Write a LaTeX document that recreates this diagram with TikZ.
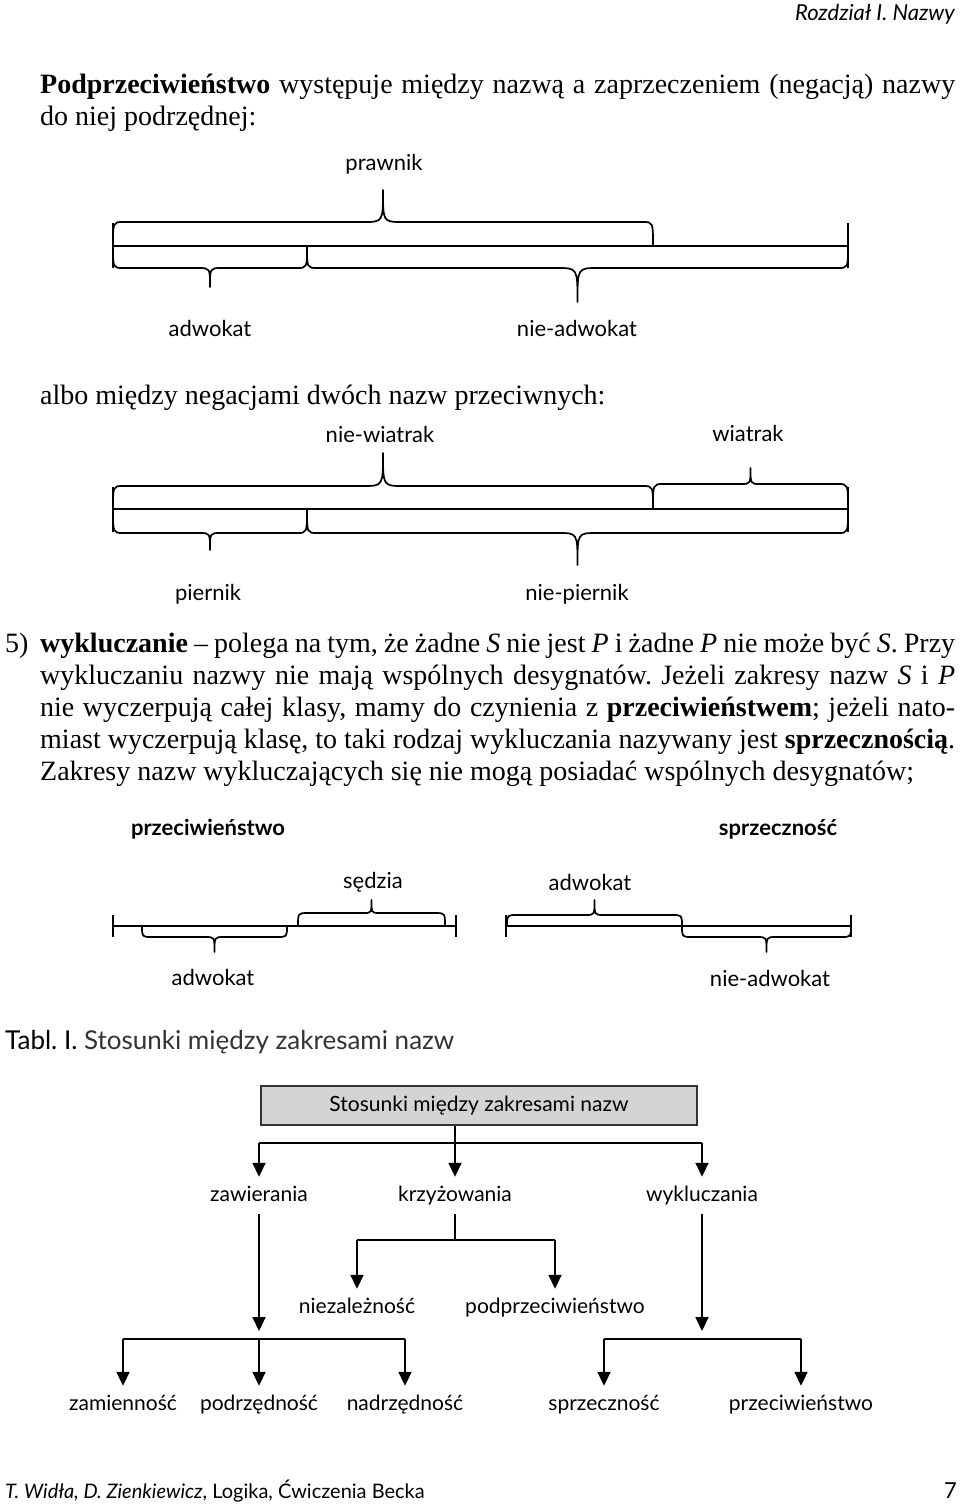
\documentclass[tikz,border=0pt]{standalone}
\usepackage{fontspec}
\setmainfont{Liberation Serif}
\newfontfamily\gill{Lato}
\usetikzlibrary{arrows.meta}
\frenchspacing

\tikzset{
  brc/.style={line width=1.7pt, line cap=round, line join=round},
  tick/.style={line width=1.7pt},
  body/.style={font=\fontsize{28}{32}\selectfont, inner sep=0pt, anchor=base west},
  lbl/.style={font=\gill\fontsize{22}{26}\selectfont, inner sep=0pt, anchor=base},
  blbl/.style={lbl, font=\gill\bfseries\fontsize{22}{26}\selectfont},
  tnode/.style={font=\gill\fontsize{21}{26}\selectfont, inner xsep=0pt, inner ysep=8pt,
    text height=16pt, text depth=5pt, anchor=base},
  ln/.style={line width=1.8pt},
  arr/.style={line width=1.8pt, -{Triangle[width=13pt,length=14pt]}},
}

% brace: x left, x right, y of line, direction (1 down, -1 up), flat offset, tip length
\newcommand{\cbrace}[6]{%
  \draw[brc] (#1,#3) .. controls (#1,{#3+#4*#5}) .. ({#1+10},{#3+#4*#5})
    -- ({(#1+#2)/2-0.6*#6},{#3+#4*#5}) .. controls ({(#1+#2)/2},{#3+#4*#5}) .. ({(#1+#2)/2},{#3+#4*(#5+#6)})
    .. controls ({(#1+#2)/2},{#3+#4*#5}) .. ({(#1+#2)/2+0.6*#6},{#3+#4*#5})
    -- ({#2-10},{#3+#4*#5}) .. controls (#2,{#3+#4*#5}) .. (#2,#3);}

\begin{document}
\begin{tikzpicture}[x=1pt, y=-1pt]
  \useasboundingbox (0,0) rectangle (960,1507);

  % page head
  \node[font=\gill\itshape\fontsize{22}{26}\selectfont, inner sep=0pt, anchor=base east] (hdr) at (955,20) {Rozdział I. Nazwy};

  \node[body] (pdef) at (40,93) {\makebox[915pt][s]{\textbf{Podprzeciwieństwo} występuje między nazwą a zaprzeczeniem (negacją) nazwy}};
  \node[body] (pdef2) at (40,125) {do niej podrzędnej:};

  % prawnik / adwokat
  \draw[tick] (113,246) -- (848,246) (113,223) -- (113,268) (848,223) -- (848,268);
  \cbrace{113}{653}{246}{-1}{24}{32}
  \cbrace{113}{307}{246}{1}{22}{19}
  \cbrace{307}{848}{246}{1}{22}{34}
  \node[lbl] (prawnik) at (384,170) {prawnik};
  \node[lbl] (adw1) at (210,336) {adwokat};
  \node[lbl] (nadw1) at (577,336) {nie-adwokat};

  \node[body] (albo) at (40,404) {albo między negacjami dwóch nazw przeciwnych:};

  % wiatrak / piernik
  \draw[tick] (113,509) -- (848,509) (113,487) -- (113,532) (848,487) -- (848,532);
  \cbrace{113}{653}{509}{-1}{23}{33}
  \cbrace{653}{848}{509}{-1}{25}{16}
  \cbrace{113}{307}{509}{1}{24}{17}
  \cbrace{307}{848}{509}{1}{24}{32}
  \node[lbl] (nwiat) at (380,442) {nie-wiatrak};
  \node[lbl] (wiat) at (748,441) {wiatrak};
  \node[lbl] (pier) at (208,600) {piernik};
  \node[lbl] (npier) at (577,600) {nie-piernik};

  \node[body] (p5) at (5,652) {5)};
  \node[body] (w1) at (40,652) {\makebox[915pt][s]{\textbf{wykluczanie} – polega na tym, że żadne \textit{S} nie jest \textit{P} i żadne \textit{P} nie może być \textit{S}. Przy}};
  \node[body] (w2) at (40,684) {\makebox[915pt][s]{wykluczaniu nazwy nie mają wspólnych desygnatów. Jeżeli zakresy nazw \textit{S} i \textit{P}}};
  \node[body] (w3) at (40,716) {\makebox[915pt][s]{nie wyczerpują całej klasy, mamy do czynienia z \textbf{przeciwieństwem}; jeżeli nato-}};
  \node[body] (w4) at (40,748) {\makebox[915pt][s]{miast wyczerpują klasę, to taki rodzaj wykluczania nazywany jest \textbf{sprzecznością}.}};
  \node[body] (w5) at (40,780) {Zakresy nazw wykluczających się nie mogą posiadać wspólnych desygnatów;};

  % przeciwienstwo / sprzecznosc
  \node[blbl] (przec) at (208,835) {przeciwieństwo};
  \node[blbl] (sprz) at (778,835) {sprzeczność};
  \draw[tick] (113,926) -- (456,926) (113,915) -- (113,937) (456,915) -- (456,937);
  \cbrace{298}{445}{926}{-1}{13}{13}
  \cbrace{142}{287}{926}{1}{11}{15}
  \node[lbl] (sedz) at (373,888) {sędzia};
  \node[lbl] (adw2) at (213,985) {adwokat};
  \draw[tick] (506,926) -- (851,926) (506,915) -- (506,937) (851,915) -- (851,937);
  \cbrace{507}{682}{926}{-1}{11}{15}
  \cbrace{682}{851}{926}{1}{11}{15}
  \node[lbl] (adw3) at (590,890) {adwokat};
  \node[lbl] (nadw3) at (770,986) {nie-adwokat};

  \node[font=\gill\fontsize{26}{30}\selectfont, inner sep=0pt, anchor=base west] (tabl) at (5,1049) {Tabl. I. {\color{black!80}Stosunki między zakresami nazw}};

  % tree
  \node[draw=black!80, line width=1.8pt, fill=black!17, minimum width=436pt, minimum height=39pt,
    inner sep=0pt, font=\gill\fontsize{21}{26}\selectfont] (root) at (479,1105.5) {Stosunki między zakresami nazw};
  \node[tnode] (zaw) at (259,1201) {zawierania};
  \node[tnode] (krz) at (455,1201) {krzyżowania};
  \node[tnode] (wyk) at (702,1201) {wykluczania};
  \node[tnode] (niez) at (357,1313) {niezależność};
  \node[tnode] (podp) at (555,1313) {podprzeciwieństwo};
  \node[tnode] (zam) at (123,1410) {zamienność};
  \node[tnode] (podrz) at (259,1410) {podrzędność};
  \node[tnode] (nadrz) at (405,1410) {nadrzędność};
  \node[tnode] (sprz2) at (604,1410) {sprzeczność};
  \node[tnode] (przec2) at (801,1410) {przeciwieństwo};

  \coordinate (b1) at (455,1143);
  \coordinate (b1l) at (259,1143);
  \coordinate (b1r) at (702,1143);
  \coordinate (b2) at (455,1240);
  \coordinate (b2l) at (357,1240);
  \coordinate (b2r) at (555,1240);
  \coordinate (zend) at (259,1331);
  \coordinate (wend) at (702,1331);
  \coordinate (b3) at (259,1339);
  \coordinate (b3l) at (123,1339);
  \coordinate (b3r) at (405,1339);
  \coordinate (b4l) at (604,1339);
  \coordinate (b4r) at (801,1339);

  \draw[ln] (root.south -| b1) -- (b1) (b1l) -- (b1r);
  \draw[arr] (b1l) -- (zaw);
  \draw[arr] (b1) -- (krz);
  \draw[arr] (b1r) -- (wyk);
  \draw[ln] (krz) -- (b2) (b2l) -- (b2r);
  \draw[arr] (b2l) -- (niez);
  \draw[arr] (b2r) -- (podp);
  \draw[arr] (zaw) -- (zend);
  \draw[arr] (wyk) -- (wend);
  \draw[ln] (b3l) -- (b3r) (b4l) -- (b4r);
  \draw[arr] (b3l) -- (zam);
  \draw[arr] (b3) -- (podrz);
  \draw[arr] (b3r) -- (nadrz);
  \draw[arr] (b4l) -- (sprz2);
  \draw[arr] (b4r) -- (przec2);

  % page foot
  \node[font=\gill\fontsize{20}{24}\selectfont, inner sep=0pt, anchor=base west] (foot) at (5,1498) {\textit{T. Widła, D. Zienkiewicz}, Logika, Ćwiczenia Becka};
  \node[font=\gill\fontsize{22}{24}\selectfont, inner sep=0pt, anchor=base east] (pnum) at (957,1498) {7};
\end{tikzpicture}
\end{document}
